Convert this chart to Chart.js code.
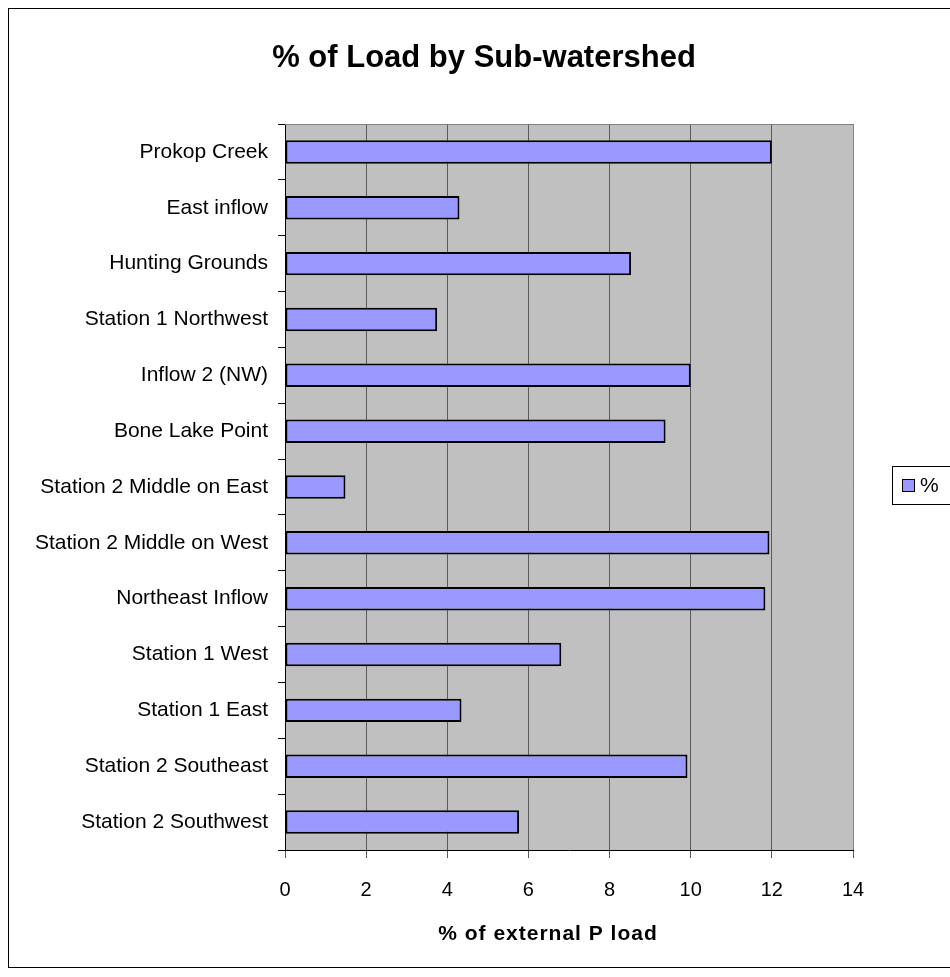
<!DOCTYPE html>
<html>
<head>
<meta charset="utf-8">
<title>% of Load by Sub-watershed</title>
<script src="https://cdn.jsdelivr.net/npm/chart.js@4.4.1/dist/chart.umd.min.js"></script>
<style>
  html, body { margin: 0; padding: 0; background: #fff; }
  #wrap { width: 950px; height: 977px; position: relative; }
  canvas { display: block; }
</style>
</head>
<body>
<div id="wrap"><canvas id="chart" width="950" height="977"></canvas></div>
<script>
// Sub-watersheds, listed top to bottom
const categories = [
  'Prokop Creek',
  'East inflow',
  'Hunting Grounds',
  'Station 1 Northwest',
  'Inflow 2 (NW)',
  'Bone Lake Point',
  'Station 2 Middle on East',
  'Station 2 Middle on West',
  'Northeast Inflow',
  'Station 1 West',
  'Station 1 East',
  'Station 2 Southeast',
  'Station 2 Southwest'
];

// Share of the external phosphorus load (%)
const loadPercent = [12.0, 4.30, 8.53, 3.75, 10.0, 9.38, 1.49, 11.94, 11.84, 6.81, 4.35, 9.92, 5.77];

const xTickValues = [0, 2, 4, 6, 8, 10, 12, 14];
const seriesName = '%';
const chartTitle = '% of Load by Sub-watershed';
const xAxisTitle = '% of external P load';

const FONT = '"Liberation Sans", Arial, Helvetica, sans-serif';

// Page frame, plot background, plot border, titles and legend
const framePlugin = {
  id: 'frame',
  beforeDraw(chart) {
    const { ctx, chartArea: a } = chart;
    ctx.save();
    ctx.fillStyle = '#ffffff';
    ctx.fillRect(0, 0, chart.width, chart.height);
    ctx.fillStyle = '#c0c0c0';
    ctx.fillRect(a.left, a.top, a.right - a.left, a.bottom - a.top);
    ctx.restore();
  },
  beforeDatasetsDraw(chart) {
    const { ctx, chartArea: a } = chart;
    ctx.save();
    ctx.strokeStyle = '#808080';
    ctx.lineWidth = 1;
    ctx.beginPath();
    ctx.moveTo(a.left, a.top + 0.5);
    ctx.lineTo(a.right + 0.5, a.top + 0.5);
    ctx.lineTo(a.right + 0.5, a.bottom);
    ctx.stroke();
    ctx.restore();
  },
  afterDraw(chart) {
    const { ctx } = chart;
    ctx.save();
    ctx.strokeStyle = '#000';
    ctx.lineWidth = 1;
    ctx.strokeRect(8.5, 8.5, 1000, 959);

    // chart title
    ctx.fillStyle = '#000';
    ctx.font = 'bold 31px ' + FONT;
    ctx.textAlign = 'center';
    ctx.textBaseline = 'middle';
    ctx.fillText(chartTitle, 484, 58);

    // value axis title
    ctx.font = 'bold 21px ' + FONT;
    if ('letterSpacing' in ctx) ctx.letterSpacing = '1px';
    ctx.fillText(xAxisTitle, 548, 934);
    if ('letterSpacing' in ctx) ctx.letterSpacing = '0px';

    // legend box on the right
    const ds = chart.data.datasets[0];
    ctx.strokeStyle = '#000';
    ctx.strokeRect(892.5, 466.5, 80, 38);
    ctx.fillStyle = ds.backgroundColor;
    ctx.fillRect(902, 479, 13, 13);
    ctx.strokeRect(902.5, 479.5, 12, 12);
    ctx.fillStyle = '#000';
    ctx.font = '21px ' + FONT;
    ctx.textAlign = 'left';
    ctx.fillText(ds.label, 920, 486);
    ctx.restore();
  }
};

new Chart(document.getElementById('chart'), {
  type: 'bar',
  data: {
    labels: categories,
    datasets: [{
      label: seriesName,
      data: loadPercent,
      backgroundColor: '#9999ff',
      borderColor: '#000000',
      borderWidth: 2,
      borderSkipped: false,
      barPercentage: 0.42,
      categoryPercentage: 1.0
    }]
  },
  options: {
    indexAxis: 'y',
    responsive: false,
    animation: false,
    devicePixelRatio: 1,
    layout: { padding: { left: 24, top: 124, right: 97, bottom: 0 } },
    plugins: {
      legend: { display: false },
      title: { display: false },
      tooltip: { enabled: false }
    },
    scales: {
      x: {
        type: 'linear',
        min: xTickValues[0],
        max: xTickValues[xTickValues.length - 1],
        afterBuildTicks(scale) {
          scale.ticks = xTickValues.map(v => ({ value: v }));
        },
        afterFit(scale) { scale.height = 127; },
        ticks: {
          color: '#000',
          font: { family: FONT, size: 20 },
          padding: 20,
          maxRotation: 0
        },
        grid: {
          color: '#5a5a5a',
          lineWidth: 1,
          tickLength: 8,
          tickColor: '#5a5a5a',
          drawOnChartArea: true
        },
        border: { display: true, color: '#000', width: 1 },
        title: { display: false }
      },
      y: {
        type: 'category',
        afterFit(scale) { scale.width = 261; },
        ticks: {
          color: '#000',
          font: { family: FONT, size: 21 },
          padding: 10,
          autoSkip: false
        },
        grid: {
          display: true,
          offset: true,
          drawOnChartArea: false,
          tickLength: 7,
          tickColor: '#000'
        },
        border: { display: true, color: '#000', width: 1 }
      }
    }
  },
  plugins: [framePlugin]
});
</script>
</body>
</html>
